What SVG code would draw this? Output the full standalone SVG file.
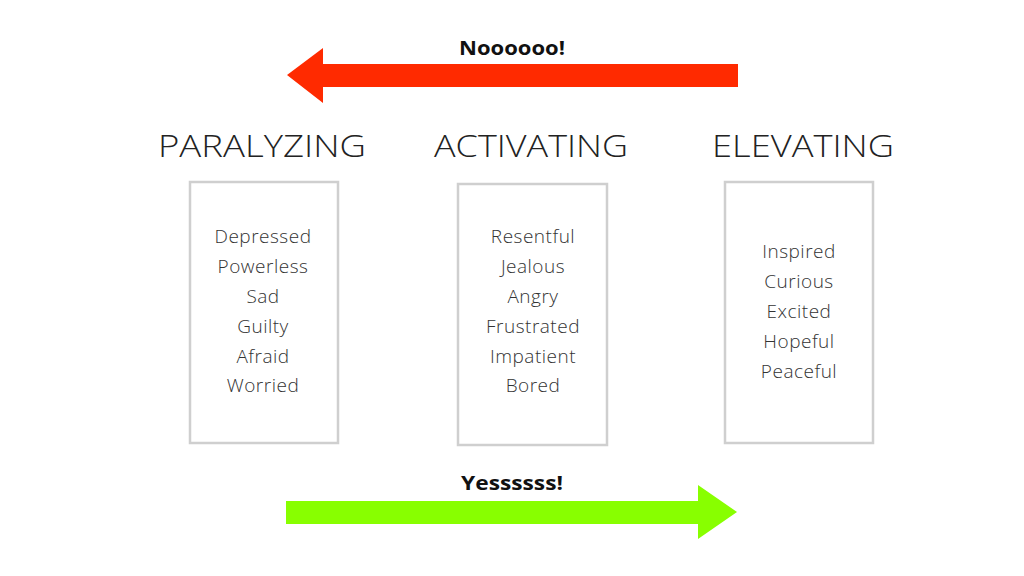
<svg xmlns="http://www.w3.org/2000/svg" width="1024" height="576" viewBox="0 0 1024 576">
<style>
.hdr{font-family:"Open Sans","Liberation Sans",sans-serif;font-weight:300;font-size:32px;fill:#222;text-anchor:middle}
.item{font-family:"Open Sans","Liberation Sans",sans-serif;font-weight:300;font-size:19px;letter-spacing:0.5px;fill:#333;text-anchor:middle}
.lbl{font-family:"Open Sans","Liberation Sans",sans-serif;font-weight:700;font-size:20px;fill:#111;text-anchor:middle}
.box{fill:#fff;stroke:#cfcfcf;stroke-width:2.5}
</style>
<rect width="1024" height="576" fill="#fff"/>
<g id="connectors">
<polygon points="738,64 323,64 323,48 287,75 323,103 323,87 738,87" fill="#ff2a00"/>
<polygon points="286,501 698,501 698,485 737,512 698,539 698,524 286,524" fill="#88ff00"/>
<text class="lbl" x="512" y="55" textLength="106" lengthAdjust="spacingAndGlyphs">Noooooo!</text>
<text class="lbl" x="512" y="490" textLength="102" lengthAdjust="spacingAndGlyphs">Yessssss!</text>
</g>
<g id="paralyzing">
<text class="hdr" x="262" y="157" textLength="208" lengthAdjust="spacingAndGlyphs">PARALYZING</text>
<rect class="box" x="190" y="182" width="148" height="261"/>
<text class="item" x="263" y="243">Depressed</text>
<text class="item" x="263" y="273">Powerless</text>
<text class="item" x="263" y="303">Sad</text>
<text class="item" x="263" y="333">Guilty</text>
<text class="item" x="263" y="363">Afraid</text>
<text class="item" x="263" y="392">Worried</text>
</g>
<g id="activating">
<text class="hdr" x="531" y="157" textLength="194" lengthAdjust="spacingAndGlyphs">ACTIVATING</text>
<rect class="box" x="458" y="184" width="149" height="261"/>
<text class="item" x="533" y="243">Resentful</text>
<text class="item" x="533" y="273">Jealous</text>
<text class="item" x="533" y="303">Angry</text>
<text class="item" x="533" y="333">Frustrated</text>
<text class="item" x="533" y="363">Impatient</text>
<text class="item" x="533" y="392">Bored</text>
</g>
<g id="elevating">
<text class="hdr" x="803" y="157" textLength="182" lengthAdjust="spacingAndGlyphs">ELEVATING</text>
<rect class="box" x="725" y="182" width="148" height="261"/>
<text class="item" x="799" y="258">Inspired</text>
<text class="item" x="799" y="288">Curious</text>
<text class="item" x="799" y="318">Excited</text>
<text class="item" x="799" y="348">Hopeful</text>
<text class="item" x="799" y="378">Peaceful</text>
</g>
</svg>
